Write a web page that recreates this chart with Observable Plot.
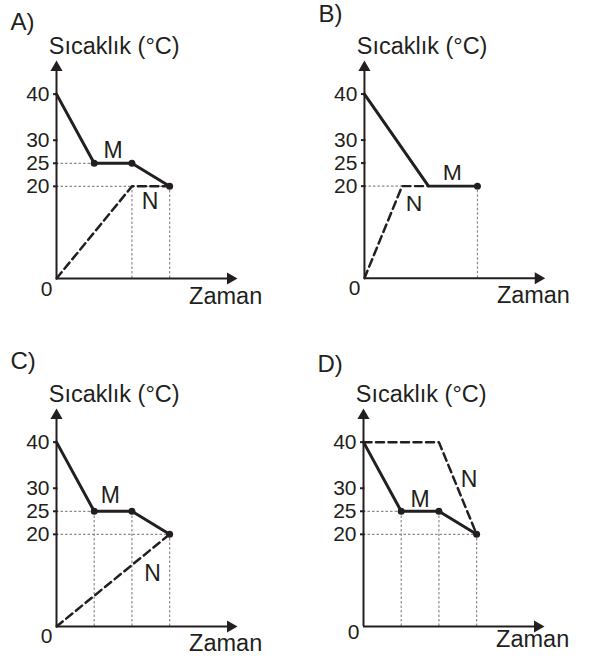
<!DOCTYPE html>
<html><head><meta charset="utf-8">
<script src="https://cdn.jsdelivr.net/npm/d3@7"></script>
<script src="https://cdn.jsdelivr.net/npm/@observablehq/plot@0.6"></script>
<style>
html,body{margin:0;padding:0;background:#fff;}
body{width:597px;height:658px;overflow:hidden;position:relative;}
.panel{position:absolute;}
</style></head><body>
<div id="root"></div>
<script>
// ---- data ----
const panelLabels = ["A)", "B)", "C)", "D)"];
const yTitle = "Sıcaklık (°C)";
const xTitle = "Zaman";
const yTicks = [20, 25, 30, 40];
const originLabel = "0";
const seriesNames = ["M", "N"];

// M (solid)
const mTimes = [[0, 1, 2, 3], [0, 1.7, 3], [0, 1, 2, 3], [0, 1, 2, 3]];
const mTemps = [[40, 25, 25, 20], [40, 20, 20], [40, 25, 25, 20], [40, 25, 25, 20]];
const mMarked = [[1, 2, 3], [2], [1, 2, 3], [1, 2, 3]]; // indices of marked points
// N (dashed)
const nTimes = [[0, 2, 3], [0, 1, 1.7], [0, 3], [0, 2, 3]];
const nTemps = [[0, 20, 20], [0, 20, 20], [0, 20], [40, 40, 20]];
// dotted guides
const guideHTemp = [[25, 20], [20], [25, 20], [25, 20]];
const guideHEnd  = [[1, 3], [1], [1, 3], [1, 3]];
const guideVTime = [[2, 3], [3], [1, 2, 3], [1, 2, 3]];
const guideVTop  = [[20, 20], [20], [25, 25, 20], [25, 25, 20]];
// label anchors (data coords) for M and N
const mLabelT = [1.5, 2.33, 1.43, 1.5];
const mLabelV = [27.8, 23.0, 28.3, 27.5];
const nLabelT = [2.48, 1.32, 2.55, 2.8];
const nLabelV = [16.6, 16.2, 11.5, 31.8];

// ---- layout ----
const X_MAX = 4.8, Y_MAX = 47.3;
const ink = "#231f20";
const font = "'Liberation Sans', Arial, Helvetica, sans-serif";
const pos = [[0, 0], [308.3, 0], [0, 348], [307.3, 348]];
const letterDy = [-30.7, -38, -39.5, -37];
const bottomDy = [25.3, 25.3, 24.5, 20];

function panel(i) {
  const M = mTimes[i].map((t, k) => ({t, v: mTemps[i][k]}));
  const N = nTimes[i].map((t, k) => ({t, v: nTemps[i][k]}));
  const dots = mMarked[i].map(k => M[k]);
  const gh = guideHTemp[i].map((v, k) => ({v, t2: guideHEnd[i][k]}));
  const gv = guideVTime[i].map((t, k) => ({t, v2: guideVTop[i][k]}));
  const w = i % 2 ? 289 : 300;
  const guide = {stroke: "#8c8c8c", strokeWidth: 1.2, strokeDasharray: "2.5,2"};
  return Plot.plot({
    width: w, height: 310,
    marginLeft: 56, marginRight: w - 237, marginTop: 60, marginBottom: 32,
    x: {domain: [0, X_MAX], axis: null},
    y: {domain: [0, Y_MAX]},
    style: {fontFamily: font, fontSize: "21px", color: ink, background: "transparent", overflow: "visible"},
    marks: [
      Plot.ruleY(gh, {y: "v", x1: 0, x2: "t2", ...guide}),
      Plot.ruleX(gv, {x: "t", y1: 0, y2: "v2", ...guide}),
      Plot.ruleX([0], {y1: 0, y2: Y_MAX - 1.2, stroke: ink, strokeWidth: 2}),
      Plot.ruleY([0], {x1: 0, x2: X_MAX - 0.15, stroke: ink, strokeWidth: 2}),
      Plot.dot([{t: 0, v: Y_MAX}], {x: "t", y: "v", symbol: "triangle", r: 4.5, fill: ink, stroke: null, dy: 7}),
      Plot.dot([{t: X_MAX, v: 0}], {x: "t", y: "v", symbol: "triangle", r: 4.5, fill: ink, stroke: null, rotate: 90, dx: -7}),
      Plot.axisY({ticks: yTicks, tickSize: 4.5, tickPadding: 4, fontSize: 21, strokeWidth: 2, stroke: ink, label: null, dx: 1.5, tickFormat: d => String(d)}),
      Plot.line(N, {x: "t", y: "v", stroke: ink, strokeWidth: 2.5, strokeDasharray: "8,4.5"}),
      Plot.line(M, {x: "t", y: "v", stroke: ink, strokeWidth: 3, strokeLinejoin: "round"}),
      Plot.dot(dots, {x: "t", y: "v", r: 3.5, fill: ink, stroke: null}),
      Plot.text([{t: mLabelT[i], v: mLabelV[i], s: seriesNames[0]}], {x: "t", y: "v", text: "s", fontSize: 23, fill: ink, lineAnchor: "middle"}),
      Plot.text([{t: nLabelT[i], v: nLabelV[i], s: seriesNames[1]}], {x: "t", y: "v", text: "s", fontSize: 23, fill: ink, lineAnchor: "middle"}),
      Plot.text([{t: 0, v: 0, s: originLabel}], {x: "t", y: "v", text: "s", fontSize: 21, fill: ink, textAnchor: "end", lineAnchor: "bottom", dx: -4, dy: bottomDy[i] - 8}),
      Plot.text([panelLabels[i]], {text: d => d, frameAnchor: "top-left", textAnchor: "start", lineAnchor: "bottom", dx: -46, dy: letterDy[i], fontSize: 24, fill: ink}),
      Plot.text([yTitle], {text: d => d, frameAnchor: "top-left", textAnchor: "start", lineAnchor: "bottom", dx: -7.7, dy: -6.7, fontSize: 23.5, fill: ink}),
      Plot.text([xTitle], {text: d => d, frameAnchor: "bottom-right", textAnchor: "end", lineAnchor: "bottom", dx: 24.7, dy: bottomDy[i], fontSize: 23.5, fill: ink})
    ]
  });
}

const root = document.getElementById("root");
for (let i = 0; i < 4; i++) {
  const div = document.createElement("div");
  div.className = "panel";
  div.style.left = pos[i][0] + "px";
  div.style.top = pos[i][1] + "px";
  div.appendChild(panel(i));
  root.appendChild(div);
}
</script>
</body></html>
